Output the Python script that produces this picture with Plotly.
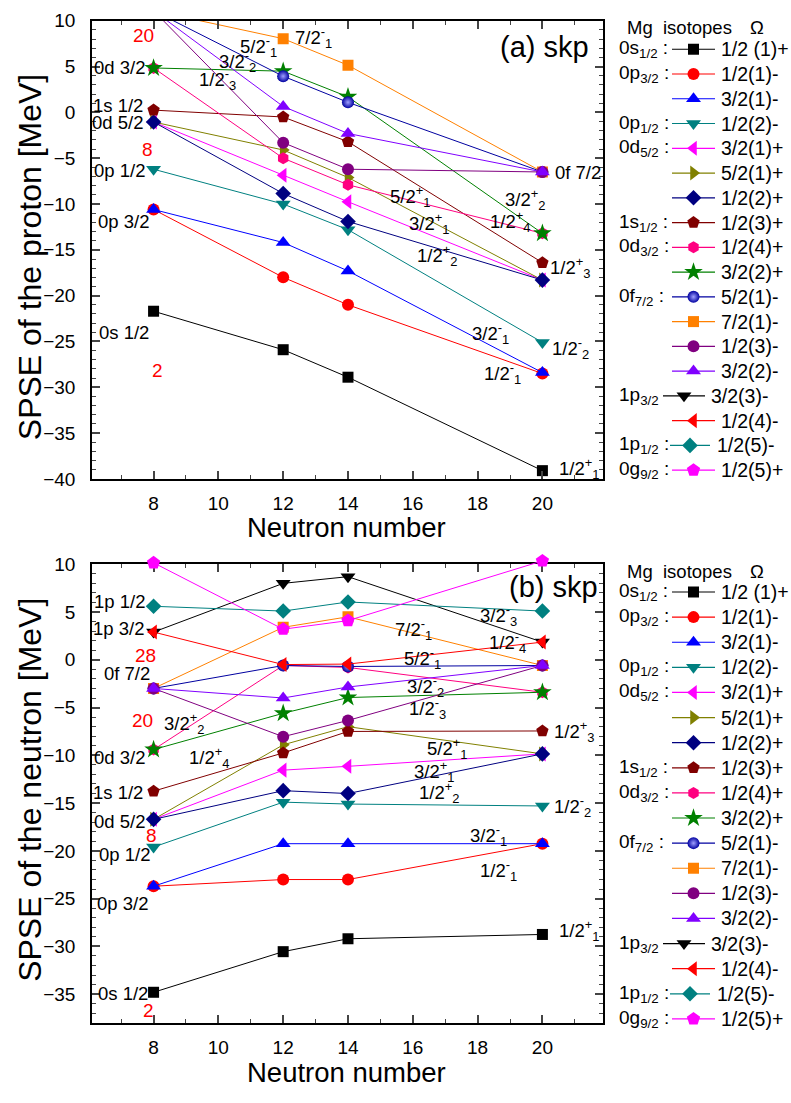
import plotly.graph_objects as go

W, H = 791, 1103
N = [8, 12, 14, 20]
x_ticks = [8, 10, 12, 14, 16, 18, 20]
y_ticks_a = [10, 5, 0, -5, -10, -15, -20, -25, -30, -35, -40]
y_ticks_b = [10, 5, 0, -5, -10, -15, -20, -25, -30, -35]

# ---- (a) proton single-particle energies [MeV] at N = 8, 12, 14, 20
p_0s12_12p = [-21.7, -25.9, -28.9, -39.1]
p_0p32_12m = [-10.6, -18.0, -21.0, -28.5]
p_0p32_32m = [-10.6, -14.2, -17.3, -28.4]
p_0p12_12m = [-6.2, -10.0, -12.8, -25.1]
p_0d52_32p = [-1.05, -6.85, -9.75, -18.3]
p_0d52_52p = [-1.05, -4.1, -7.1, -18.3]
p_0d52_12p = [-1.05, -8.85, -11.9, -18.3]
p_1s12_12p = [0.25, -0.5, -3.2, -16.4]
p_0d32_12p = [4.85, -5.0, -7.9, -13.2]
p_0d32_32p = [4.85, 4.5, 1.7, -13.2]
p_0f72_52m = [11.1, 3.95, 1.1, -6.5]
p_0f72_72m = [11.1, 8.05, 5.15, -6.5]
p_0f72_12m = [11.1, -3.3, -6.2, -6.5]
p_0f72_32m = [11.1, 0.65, -2.3, -6.5]

# ---- (b) neutron single-particle energies [MeV]
n_0s12_12p = [-34.8, -30.55, -29.2, -28.75]
n_0p32_12m = [-23.7, -23.0, -23.0, -19.25]
n_0p32_32m = [-23.7, -19.25, -19.25, -19.25]
n_0p12_12m = [-19.6, -14.9, -15.1, -15.3]
n_0d52_32p = [-16.7, -11.55, -11.15, -9.85]
n_0d52_52p = [-16.7, -8.9, -7.0, -9.85]
n_0d52_12p = [-16.7, -13.7, -14.0, -9.85]
n_1s12_12p = [-13.75, -9.75, -7.5, -7.45]
n_0d32_12p = [-9.4, -0.6, -0.8, -3.4]
n_0d32_32p = [-9.4, -5.6, -3.95, -3.4]
n_0f72_52m = [-3.0, -0.6, -0.7, -0.6]
n_0f72_72m = [-3.0, 3.4, 4.5, -0.6]
n_0f72_12m = [-3.0, -8.05, -6.35, -0.6]
n_0f72_32m = [-3.0, -4.0, -2.85, -0.6]
n_1p32_32m = [2.9, 8.0, 8.7, 1.85]
n_1p32_12m = [2.9, -0.5, -0.45, 1.85]
n_1p12_12m = [5.6, 5.1, 6.05, 5.1]
n_0g92_12p = [10.15, 3.2, 4.1, 10.35]

# legend texts
group_labels = ["0s<sub>1/2</sub> :", "0p<sub>3/2</sub> :", "", "0p<sub>1/2</sub> :",
                "0d<sub>5/2</sub> :", "", "", "1s<sub>1/2</sub> :", "0d<sub>3/2</sub> :", "",
                "0f<sub>7/2</sub> :", "", "", "", "1p<sub>3/2</sub>", "", "1p<sub>1/2</sub> :",
                "0g<sub>9/2</sub> :"]
omega_labels = ["1/2 (1)+", "1/2(1)-", "3/2(1)-", "1/2(2)-", "3/2(1)+", "5/2(1)+", "1/2(2)+",
                "1/2(3)+", "1/2(4)+", "3/2(2)+", "5/2(1)-", "7/2(1)-", "1/2(3)-", "3/2(2)-",
                "3/2(3)-", "1/2(4)-", "1/2(5)-", "1/2(5)+"]

# style per state (colour, symbol, size)
styles = [
    ("#000000", "square", 11), ("#ff0000", "circle", 12), ("#0000ff", "triangle-up", 13),
    ("#008080", "triangle-down", 13), ("#ff00ff", "triangle-left", 13),
    ("#808000", "triangle-right", 13), ("#000080", "diamond", 12), ("#800000", "pentagon", 13),
    ("#ff0080", "hexagon", 12), ("#008000", "star", 14), ("#0000a0", "circle", 12),
    ("#ff8000", "square", 11), ("#800080", "circle", 12), ("#8000ff", "triangle-up", 13),
    ("#000000", "triangle-down", 13), ("#ff0000", "triangle-left", 13),
    ("#008080", "diamond", 12), ("#ff00ff", "pentagon", 14),
]

proton = [p_0s12_12p, p_0p32_12m, p_0p32_32m, p_0p12_12m, p_0d52_32p, p_0d52_52p, p_0d52_12p,
          p_1s12_12p, p_0d32_12p, p_0d32_32p, p_0f72_52m, p_0f72_72m, p_0f72_12m, p_0f72_32m]
neutron = [n_0s12_12p, n_0p32_12m, n_0p32_32m, n_0p12_12m, n_0d52_32p, n_0d52_52p, n_0d52_12p,
           n_1s12_12p, n_0d32_12p, n_0d32_32p, n_0f72_52m, n_0f72_72m, n_0f72_12m, n_0f72_32m,
           n_1p32_32m, n_1p32_12m, n_1p12_12m, n_0g92_12p]

FONT = "Liberation Sans, Arial, sans-serif"
fig = go.Figure()


def mk(i):
    c, s, sz = styles[i]
    m = dict(color=c, symbol=s, size=sz, line=dict(width=0))
    if i == 10:
        m["gradient"] = dict(type="radial", color="#a0a0ff")
    return m


for i, ys in enumerate(proton):
    fig.add_trace(go.Scatter(x=N, y=ys, mode="lines+markers", xaxis="x", yaxis="y",
                             line=dict(color=styles[i][0], width=1), marker=mk(i),
                             showlegend=False))
for i, ys in enumerate(neutron):
    # the 0g9/2 state touches the upper frame: drawn on a twin axis with the same scale
    fig.add_trace(go.Scatter(x=N, y=ys, mode="lines+markers", xaxis="x2",
                             yaxis=("y4" if i == 17 else "y2"),
                             line=dict(color=styles[i][0], width=1), marker=mk(i),
                             showlegend=False, cliponaxis=(i != 17)))

# ---- geometry (pixels)
XL, XR = 92, 603
A_T, A_B = 11, 478
B_T, B_B = 565, 1032.5
B_RANGE = [-38, 10]
EXTRA = 14  # px of headroom for the twin axis


def px2x(px):
    return px / W


def px2y(py):
    return 1 - py / H


b_scale = (B_B - B_T) / (B_RANGE[1] - B_RANGE[0])
xr = [6.1, 21.87]
axis_font = dict(family=FONT, size=19, color="black")
xcommon = dict(range=xr, tickvals=x_ticks, ticks="inside", ticklen=8, tickwidth=1.5,
               showline=True, linewidth=1.5, linecolor="black", mirror="ticks",
               showgrid=False, zeroline=False, tickfont=axis_font, ticklabelstandoff=7,
               minor=dict(dtick=1, tick0=0, ticks="inside", ticklen=4, tickwidth=1.2),
               domain=[px2x(XL), px2x(XR)])
ycommon = dict(ticks="inside", ticklen=8, tickwidth=1.5, showline=True, linewidth=1.5,
               linecolor="black", mirror="ticks", showgrid=False, zeroline=False,
               tickfont=axis_font, ticklabelstandoff=11,
               minor=dict(dtick=1, tick0=0, ticks="inside", ticklen=4, tickwidth=1.2))

fig.update_layout(
    width=W, height=H, margin=dict(l=0, r=0, t=0, b=0),
    paper_bgcolor="white", plot_bgcolor="rgba(0,0,0,0)", showlegend=False,
    font=dict(family=FONT, color="black"),
    xaxis=dict(anchor="y", **xcommon),
    yaxis=dict(anchor="x", range=[-40, 10], tickvals=y_ticks_a,
               domain=[px2y(A_B), px2y(A_T)], **ycommon),
    xaxis2=dict(anchor="y2", **xcommon),
    yaxis2=dict(anchor="x2", range=B_RANGE, tickvals=y_ticks_b,
                domain=[px2y(B_B), px2y(B_T)], **ycommon),
    yaxis4=dict(anchor="x2", visible=False,
                range=[B_RANGE[0], B_RANGE[1] + EXTRA / b_scale],
                domain=[px2y(B_B), px2y(B_T - EXTRA)]),
    xaxis3=dict(domain=[0, 1], range=[0, W], visible=False, anchor="y3"),
    yaxis3=dict(domain=[0, 1], range=[H, 0], visible=False, anchor="x3"),
)

anns = []


def A(x, y, text, anchor="left", size=18.5, color="black", angle=0):
    anns.append(dict(x=px2x(x), y=px2y(y), xref="paper", yref="paper", text=text,
                     showarrow=False, xanchor=anchor, yanchor="middle", textangle=angle,
                     font=dict(family=FONT, size=size, color=color)))


RED = "#ff0000"
# axis titles
A(30, 252, "SPSE of the proton [MeV]", "center", 32, angle=-90)
A(30, 795, "SPSE of the neutron [MeV]", "center", 32, angle=-90)
A(346, 528, "Neutron number", "center", 27.5)
A(346, 1083, "Neutron number", "center", 27.5)

# panel (a) labels
A(143, 26, "20", "center", 19, RED)
A(147, 59, "0d 3/2", "right")
A(145, 97, "1s 1/2", "right")
A(145, 115, "0d 5/2", "right")
A(147, 142, "8", "center", 19, RED)
A(147, 164, "0p 1/2", "right")
A(151, 216, "0p 3/2", "right")
A(151, 329, "0s 1/2", "right")
A(157, 368, "2", "center", 19, RED)
A(293, 28, "7/2<sup>-</sup><sub>1</sub>")
A(238, 37, "5/2<sup>-</sup><sub>1</sub>")
A(217, 53, "3/2<sup>-</sup><sub>2</sub>")
A(197, 71, "1/2<sup>-</sup><sub>3</sub>")
A(498, 38, "(a) skp", "left", 29)
A(553, 166, "0f 7/2")
A(388, 190, "5/2<sup>+</sup><sub>1</sub>")
A(503, 193, "3/2<sup>+</sup><sub>2</sub>")
A(488, 216, "1/2<sup>+</sup><sub>4</sub>")
A(407, 218, "3/2<sup>+</sup><sub>1</sub>")
A(415, 250, "1/2<sup>+</sup><sub>2</sub>")
A(548, 262, "1/2<sup>+</sup><sub>3</sub>")
A(470, 330, "3/2<sup>-</sup><sub>1</sub>")
A(550, 345, "1/2<sup>-</sup><sub>2</sub>")
A(482, 371, "1/2<sup>-</sup><sub>1</sub>")
A(557, 467, "1/2<sup>+</sup><sub>1</sub>")

# panel (b) labels
A(147, 603, "1p 1/2", "right")
A(146, 630, "1p 3/2", "right")
A(145, 658, "28", "center", 19, RED)
A(152, 676, "0f 7/2", "right")
A(142, 724, "20", "center", 19, RED)
A(162, 727, "3/2<sup>+</sup><sub>2</sub>")
A(147, 762, "0d 3/2", "right")
A(187, 762, "1/2<sup>+</sup><sub>4</sub>")
A(145, 798, "1s 1/2", "right")
A(147, 827, "0d 5/2", "right")
A(151, 842, "8", "center", 19, RED)
A(152, 861, "0p 1/2", "right")
A(150, 911, "0p 3/2", "right")
A(150, 1003, "0s 1/2", "right")
A(148, 1020, "2", "center", 19, RED)
A(507, 588, "(b) skp", "left", 29)
A(478, 617, "3/2<sup>-</sup><sub>3</sub>")
A(393, 632, "7/2<sup>-</sup><sub>1</sub>")
A(487, 645, "1/2<sup>-</sup><sub>4</sub>")
A(402, 661, "5/2<sup>-</sup><sub>1</sub>")
A(405, 690, "3/2<sup>-</sup><sub>2</sub>")
A(407, 712, "1/2<sup>-</sup><sub>3</sub>")
A(552, 735, "1/2<sup>+</sup><sub>3</sub>")
A(425, 753, "5/2<sup>+</sup><sub>1</sub>")
A(412, 776, "3/2<sup>+</sup><sub>1</sub>")
A(417, 798, "1/2<sup>+</sup><sub>2</sub>")
A(552, 812, "1/2<sup>-</sup><sub>2</sub>")
A(468, 842, "3/2<sup>-</sup><sub>1</sub>")
A(478, 877, "1/2<sup>-</sup><sub>1</sub>")
A(557, 938, "1/2<sup>+</sup><sub>1</sub>")

# ---- manual legends (pixel-coordinate overlay axis)
for head_y, row0, step in [(18, 40, 25.24), (572, 593.3, 25.6)]:
    A(625, head_y, "Mg  isotopes", "left", 18.5)
    A(757, head_y, "Ω", "center", 18.5)
    for i, (gl, ol) in enumerate(zip(group_labels, omega_labels)):
        ry = row0 + i * step
        if i == 14:
            x0, x1, xt = 663, 705, 709
        elif i == 16:
            x0, x1, xt = 670, 710, 715
        else:
            x0, x1, xt = 672, 715, 719
        c = styles[i][0]
        fig.add_trace(go.Scatter(x=[x0, x1], y=[ry, ry], mode="lines", xaxis="x3", yaxis="y3",
                                 line=dict(color=c, width=1.2), showlegend=False,
                                 hoverinfo="skip"))
        fig.add_trace(go.Scatter(x=[(x0 + x1) / 2], y=[ry], mode="markers", xaxis="x3",
                                 yaxis="y3", marker=mk(i), showlegend=False, hoverinfo="skip"))
        if gl:
            A(617, ry, gl, "left", 19)
        A(xt, ry, ol, "left", 19.5)

fig.update_layout(annotations=anns)
fig.write_html("out.html")
